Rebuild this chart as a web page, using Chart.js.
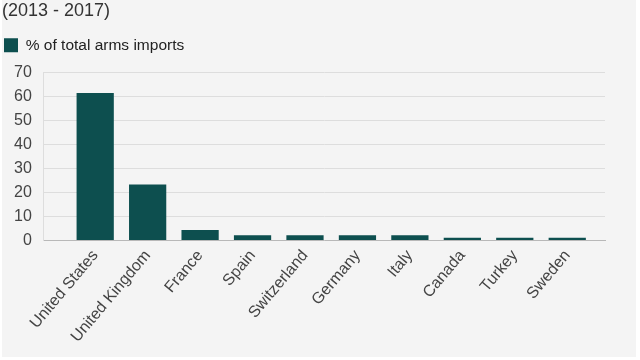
<!DOCTYPE html>
<html>
<head>
<meta charset="utf-8">
<script src="https://cdn.jsdelivr.net/npm/chart.js@4.4.1/dist/chart.umd.min.js"></script>
<style>
  html, body { margin: 0; padding: 0; background: #ffffff; }
  #wrap {
    position: absolute; left: 2px; top: 0; width: 634px; height: 357px;
    background: #f4f4f4;
  }
</style>
</head>
<body>
<div id="wrap"><canvas id="armsChart"></canvas></div>
<script>
// ==========================
// Data
// ==========================
const countries = [
    "United States", "United Kingdom", "France", "Spain", "Switzerland",
    "Germany", "Italy", "Canada", "Turkey", "Sweden"
];
const importShare = [61.3, 23.3, 4.3, 2.2, 2.2, 2.2, 2.2, 1.1, 1.1, 1.1];
const yTicks = [0, 10, 20, 30, 40, 50, 60, 70];

const seriesLabel = "% of total arms imports";
const titleText = "(2013 - 2017)";

const barColour = "#0d4f4f";
const fontFamily = "'Liberation Sans', Arial, sans-serif";

// bars on a linear x scale so the axis can run past the first / last bar
const points = importShare.map((v, i) => ({ x: i, y: v }));

// extra gap under the legend
const legendGap = {
    id: "legendGap",
    beforeInit(chart) {
        const fit = chart.legend.fit;
        chart.legend.fit = function () {
            fit.bind(chart.legend)();
            this.height += 9;
        };
    }
};

document.addEventListener("DOMContentLoaded", () => {
    const canvas = document.getElementById("armsChart");

    new Chart(canvas, {
        type: "bar",
        data: {
            datasets: [{
                label: seriesLabel,
                data: points,
                backgroundColor: barColour,
                borderWidth: 0,
                barPercentage: 0.71,
                categoryPercentage: 1
            }]
        },
        options: {
            responsive: true,
            maintainAspectRatio: false,
            animation: false,
            layout: { padding: { left: 0, right: 31, top: 0, bottom: 5 } },
            plugins: {
                title: {
                    display: true,
                    text: titleText,
                    align: "start",
                    color: "#333",
                    font: { family: fontFamily, size: 18, weight: "normal" },
                    padding: { top: 0, bottom: 14 }
                },
                legend: {
                    display: true,
                    align: "start",
                    labels: {
                        color: "#222",
                        boxWidth: 14,
                        boxHeight: 14,
                        padding: 2,
                        font: { family: fontFamily, size: 15.5 }
                    }
                },
                tooltip: { enabled: false }
            },
            scales: {
                x: {
                    type: "linear",
                    offset: false,
                    min: -0.98,
                    max: 9.72,
                    grid: { display: false, drawTicks: false },
                    border: { display: true, color: "#b8b8b8", width: 1 },
                    ticks: {
                        stepSize: 1,
                        includeBounds: false,
                        autoSkip: false,
                        minRotation: 50,
                        maxRotation: 50,
                        padding: 6,
                        color: "#444",
                        font: { family: fontFamily, size: 16 },
                        callback: v => (Number.isInteger(v) && v >= 0 && v < countries.length) ? countries[v] : ""
                    }
                },
                y: {
                    min: 0,
                    max: 70,
                    afterBuildTicks: axis => { axis.ticks = yTicks.map(v => ({ value: v })); },
                    grid: { color: "#dddddd", drawTicks: false },
                    border: { display: true, color: "#dddddd" },
                    ticks: {
                        padding: 12,
                        color: "#444",
                        font: { family: fontFamily, size: 16 }
                    }
                }
            }
        },
        plugins: [legendGap]
    });
});
</script>
</body>
</html>
